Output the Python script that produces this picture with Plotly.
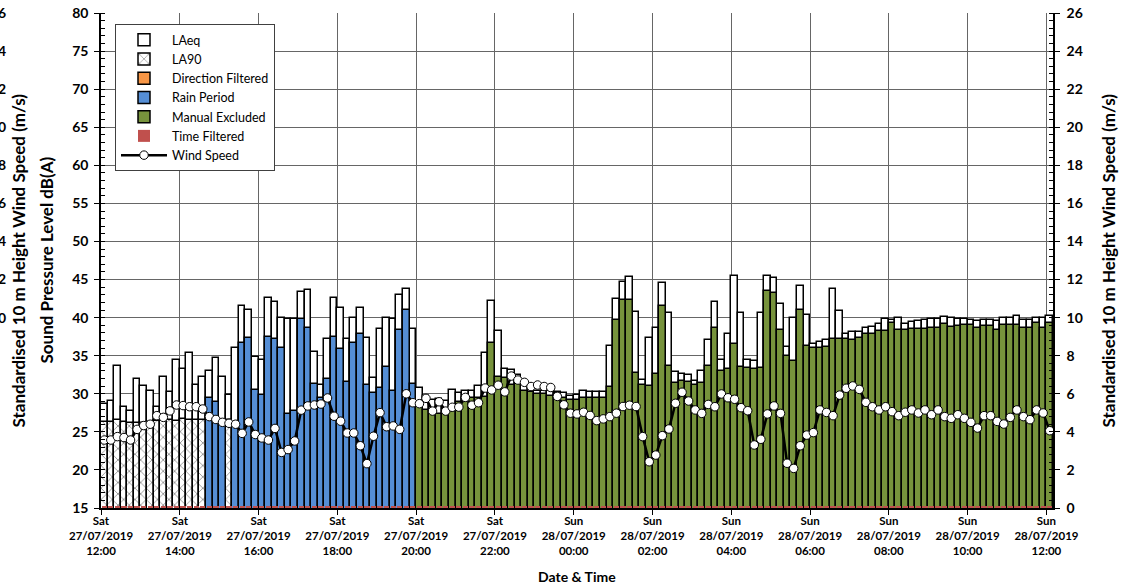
import plotly.graph_objects as go
import pandas as pd

# ---------------- data ----------------
start_time = "2019-07-27 12:00"
interval_min = 10

laeq = [28.7, 29.0, 33.6, 28.3, 27.7, 31.9, 31.0, 30.4, 28.2, 32.2,
        30.2, 34.4, 33.3, 35.4, 31.2, 32.2, 33.0, 34.7, 32.2, 29.9,
        36.0, 41.5, 41.0, 34.8, 34.4, 42.6, 42.1, 39.9, 39.8, 39.8,
        43.3, 43.6, 35.5, 31.2, 37.2, 42.6, 41.2, 37.2, 39.9, 41.3,
        37.3, 32.1, 38.5, 39.9, 39.8, 43.0, 43.8, 38.5, 30.8, 29.7,
        29.2, 29.3, 29.0, 30.5, 30.1, 30.3, 30.3, 31.0, 35.4, 42.2,
        38.2, 33.2, 33.1, 32.4, 31.2, 30.8, 30.4, 30.4, 30.4, 30.2,
        30.1, 29.7, 29.9, 30.4, 30.2, 30.2, 30.2, 36.3, 42.4, 44.7,
        45.3, 40.7, 31.8, 37.3, 38.6, 44.5, 40.6, 32.9, 32.6, 32.4,
        31.7, 33.0, 37.1, 42.1, 34.5, 37.9, 45.5, 40.6, 34.4, 34.3,
        40.6, 45.5, 45.2, 41.8, 36.2, 40.0, 44.1, 40.3, 36.6, 36.8,
        37.0, 43.8, 40.9, 37.8, 38.1, 38.1, 38.7, 38.8, 39.2, 39.8,
        39.7, 40.0, 39.1, 39.4, 39.6, 39.7, 39.8, 39.8, 40.1, 40.0,
        39.8, 39.8, 39.7, 39.5, 39.7, 39.7, 39.5, 39.9, 39.9, 40.2,
        39.7, 39.7, 40.0, 40.0, 40.2]

la90 = [26.3, 26.3, 26.6, 26.3, 26.2, 26.1, 26.2, 26.3, 26.4, 26.4,
        26.5, 26.4, 26.7, 26.6, 26.6, 26.5, 29.5, 28.9, 26.0, 26.5,
        25.9, 36.7, 37.3, 30.5, 29.8, 37.4, 37.2, 36.0, 27.3, 27.8,
        39.8, 38.6, 31.3, 29.5, 32.0, 37.4, 35.9, 31.6, 36.7, 37.9,
        31.1, 30.1, 30.7, 33.5, 30.4, 38.4, 41.0, 31.3, 28.3, 27.9,
        27.7, 27.4, 27.3, 27.7, 28.9, 29.4, 29.5, 29.4, 29.6, 36.7,
        32.2, 32.1, 31.2, 31.8, 30.3, 30.2, 30.0, 30.0, 29.7, 29.8,
        29.4, 29.2, 29.2, 29.5, 29.4, 29.4, 29.4, 30.9, 39.7, 42.3,
        42.3, 32.7, 31.1, 31.0, 32.6, 41.5, 33.6, 31.4, 31.7, 31.6,
        31.1, 31.4, 33.7, 38.6, 33.0, 33.2, 36.5, 33.5, 33.4, 33.3,
        33.4, 43.5, 43.2, 38.4, 35.0, 34.3, 41.0, 36.3, 36.0, 36.0,
        36.2, 37.2, 37.2, 37.2, 37.1, 37.3, 37.9, 37.9, 38.2, 38.3,
        39.3, 38.4, 38.4, 38.5, 38.5, 38.5, 38.6, 38.7, 39.1, 38.8,
        38.9, 39.0, 39.0, 38.6, 38.9, 38.9, 38.4, 39.0, 39.0, 39.0,
        38.7, 38.7, 39.3, 38.6, 39.3]

wind = [3.57, 3.57, 3.75, 3.70, 3.57, 4.13, 4.33, 4.40, 4.85, 4.76,
        5.10, 5.41, 5.38, 5.32, 5.32, 5.20, 4.80, 4.65, 4.50, 4.45,
        4.40, 3.92, 4.52, 3.86, 3.68, 3.57, 4.18, 2.92, 3.07, 3.52,
        5.14, 5.36, 5.41, 5.46, 5.78, 4.82, 4.56, 3.94, 3.94, 3.27,
        2.33, 3.77, 5.01, 4.27, 4.31, 4.13, 6.00, 5.53, 5.48, 5.76,
        5.09, 5.58, 5.09, 5.29, 5.30, 5.81, 5.40, 5.53, 6.30, 6.20,
        6.45, 6.10, 6.93, 6.72, 6.60, 6.38, 6.46, 6.38, 6.33, 5.86,
        5.42, 4.98, 4.94, 5.03, 4.86, 4.59, 4.68, 4.80, 4.98, 5.33,
        5.40, 5.33, 3.75, 2.43, 2.78, 3.80, 4.15, 5.50, 6.08, 5.62,
        5.15, 4.97, 5.44, 5.32, 5.99, 5.79, 5.71, 5.27, 5.11, 3.31,
        3.61, 4.94, 5.36, 4.97, 2.35, 2.08, 3.27, 3.83, 3.96, 5.15,
        5.02, 4.85, 5.93, 6.29, 6.41, 6.23, 5.55, 5.32, 5.15, 5.32,
        5.06, 4.85, 5.03, 5.15, 4.99, 5.15, 4.90, 5.15, 4.80, 4.71,
        4.90, 4.71, 4.50, 4.20, 4.85, 4.85, 4.55, 4.41, 4.76, 5.15,
        4.80, 4.64, 5.15, 4.99, 4.06]

# period status per interval: U = unfiltered LA90, R = rain, M = manual excluded
status = "U" * 16 + "R" * 3 + "U" * 1 + "R" * 28 + "M" * 97

# time-filtered strip (height above axis floor, dB)
time_filtered = [0.3] * len(laeq)

tick_labels = [
    "Sat<br>27/07/2019<br>12:00", "Sat<br>27/07/2019<br>14:00",
    "Sat<br>27/07/2019<br>16:00", "Sat<br>27/07/2019<br>18:00",
    "Sat<br>27/07/2019<br>20:00", "Sat<br>27/07/2019<br>22:00",
    "Sun<br>28/07/2019<br>00:00", "Sun<br>28/07/2019<br>02:00",
    "Sun<br>28/07/2019<br>04:00", "Sun<br>28/07/2019<br>06:00",
    "Sun<br>28/07/2019<br>08:00", "Sun<br>28/07/2019<br>10:00",
    "Sun<br>28/07/2019<br>12:00",
]

# ---------------- build ----------------
N = len(laeq)
t0 = pd.Timestamp(start_time)
step = pd.Timedelta(minutes=interval_min)
x_mid = [t0 + i * step + step / 2 for i in range(N)]
tick_vals = [t0 + pd.Timedelta(hours=2 * k) for k in range(len(tick_labels))]
x_range = [t0, t0 + N * step]
bar_w = interval_min * 60 * 1000

FONT = "Lato"
BLACK = "#000000"
GRID = "#666666"

ML, MT, PW, PH = 101, 13, 952, 495
W, H = 1135, 587


def pick(code):
    return [v if s == code else None for v, s in zip(la90, status)]


def px_x(px):  # pixel -> paper x
    return (px - ML) / PW


def px_y(py):  # pixel -> paper y
    return 1 - (py - MT) / PH


bar_line = dict(color=BLACK, width=1.5)

fig = go.Figure()
fig.add_trace(go.Bar(name="LAeq", x=x_mid, y=laeq, width=bar_w,
                     marker=dict(color="white", line=bar_line)))
fig.add_trace(go.Bar(name="LA90", x=x_mid, y=pick("U"), width=bar_w,
                     marker=dict(color="white", line=bar_line,
                                 pattern=dict(shape="x", fgcolor="#3c3c3c",
                                              bgcolor="white", size=8,
                                              solidity=0.12))))
fig.add_trace(go.Bar(name="Direction Filtered", x=x_mid, y=pick("D"), width=bar_w,
                     marker=dict(color="#F79646", line=bar_line)))
fig.add_trace(go.Bar(name="Rain Period", x=x_mid, y=pick("R"), width=bar_w,
                     marker=dict(color="#558ED5", line=bar_line)))
fig.add_trace(go.Bar(name="Manual Excluded", x=x_mid, y=pick("M"), width=bar_w,
                     marker=dict(color="#77933C", line=bar_line)))
fig.add_trace(go.Bar(name="Time Filtered", x=x_mid, y=time_filtered, base=15,
                     width=bar_w * 0.8,
                     marker=dict(color="#C0504D", line=dict(width=0))))
fig.add_trace(go.Scatter(name="Wind Speed", x=x_mid, y=wind, yaxis="y2",
                         mode="lines+markers",
                         line=dict(color=BLACK, width=2.5),
                         marker=dict(symbol="circle", size=8.5, color="white",
                                     line=dict(color=BLACK, width=1))))
fig.add_trace(go.Scatter(x=[x_mid[0]], y=[None], yaxis="y3", showlegend=False,
                         hoverinfo="skip"))

tickfont = dict(family=FONT, size=14, color=BLACK, weight="bold")
title_font = dict(family=FONT, size=17, color=BLACK, weight="bold")

fig.update_layout(
    width=W, height=H,
    margin=dict(l=ML, r=W - ML - PW, t=MT, b=H - MT - PH, pad=0),
    template="none",
    paper_bgcolor="white", plot_bgcolor="white",
    barmode="overlay", bargap=0, hovermode=False,
    font=dict(family=FONT, color=BLACK),
    showlegend=True,
    legend=dict(x=px_x(115), y=px_y(24), xanchor="left", yanchor="top",
                bgcolor="white", bordercolor="#404040", borderwidth=1,
                font=dict(family=FONT, size=12.5, color=BLACK),
                itemwidth=46, tracegroupgap=0, traceorder="normal"),
    xaxis=dict(type="date", range=x_range, tickmode="array",
               tickvals=tick_vals, ticktext=tick_labels,
               tickfont=dict(family=FONT, size=11.5, color=BLACK, weight="bold"),
               ticks="outside", ticklen=5, tickcolor=BLACK,
               ticklabelstandoff=-4, ticklabeloverflow="allow",
               showgrid=True, gridcolor=GRID, gridwidth=1,
               showline=True, linecolor=BLACK, linewidth=2,
               zeroline=False, automargin=False),
    yaxis=dict(range=[15, 80], tick0=15, dtick=5, tickfont=tickfont,
               ticks="outside", ticklen=5, tickcolor=BLACK,
               ticklabelstandoff=3, ticklabeloverflow="allow",
               minor=dict(ticks="inside", ticklen=4, dtick=1, tickcolor=BLACK,
                          showgrid=False),
               showgrid=True, gridcolor=GRID, gridwidth=1,
               showline=True, linecolor=BLACK, linewidth=1.5,
               zeroline=False, automargin=False),
    yaxis2=dict(range=[0, 26], tick0=0, dtick=2, overlaying="y", side="right",
                tickfont=tickfont, ticks="outside", ticklen=5, tickcolor=BLACK,
                ticklabelstandoff=4, ticklabeloverflow="allow",
                minor=dict(ticks="inside", ticklen=4, dtick=0.4, tickcolor=BLACK,
                           showgrid=False),
                showgrid=False, showline=True, linecolor=BLACK, linewidth=1.5,
                zeroline=False, automargin=False),
    yaxis3=dict(range=[0, 26], tick0=0, dtick=2, overlaying="y", side="right",
                anchor="free", position=0, tickfont=tickfont, ticks="",
                ticklabelposition="outside", ticklabelstandoff=-112,
                ticklabeloverflow="allow",
                showgrid=False, showline=False, zeroline=False,
                automargin=False),
    annotations=[
        dict(text="Sound Pressure Level dB(A)", xref="paper", yref="paper",
             x=px_x(46), y=0.5, textangle=-90, showarrow=False,
             xanchor="center", yanchor="middle", font=title_font),
        dict(text="Standardised 10 m Height Wind Speed (m/s)", xref="paper",
             yref="paper", x=px_x(18), y=0.5, textangle=-90,
             showarrow=False, xanchor="center", yanchor="middle",
             font=title_font),
        dict(text="Standardised 10 m Height Wind Speed (m/s)", xref="paper",
             yref="paper", x=px_x(1108), y=0.5, textangle=-90,
             showarrow=False, xanchor="center", yanchor="middle",
             font=title_font),
        dict(text="Date & Time", xref="paper", yref="paper",
             x=0.5, y=px_y(576), showarrow=False,
             xanchor="center", yanchor="middle",
             font=dict(family=FONT, size=14, color=BLACK, weight="bold")),
    ],
)

fig.write_html("out.html",
               config={"displayModeBar": False},
               post_script="document.body.style.margin='0';")
